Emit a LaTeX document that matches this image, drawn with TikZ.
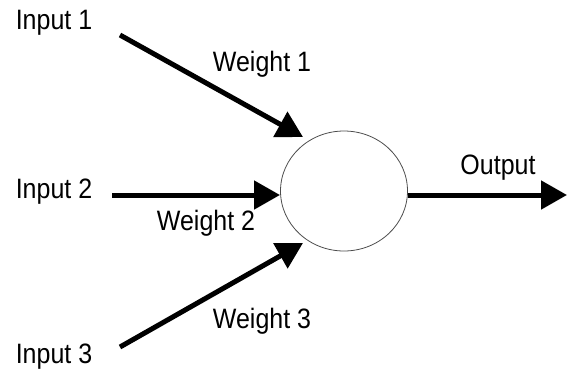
\documentclass[tikz,border=0pt]{standalone}
\usepackage{fontspec}
\setmainfont{Liberation Sans}
\usetikzlibrary{arrows.meta,shapes.geometric}
\newcommand{\tallt}[1]{\scalebox{0.98}[1.1]{#1}}
\begin{document}
\begin{tikzpicture}[x=1pt,y=-1pt,
  lbl/.style={inner sep=0pt,font=\fontsize{25.5}{30}\selectfont},
  wire/.style={line width=5pt,-{Triangle[length=26pt,width=28pt]}},
  neuron/.style={draw=black!70,line width=0.8pt,ellipse,minimum width=127pt,minimum height=120pt,inner sep=0pt}]
\useasboundingbox (0,0) rectangle (567,373);
\node[neuron] (n) at (344,191) {};
\node[lbl] (i1) at (54,23) {\tallt{Input 1}};
\node[lbl] (i2) at (54,192) {\tallt{Input 2}};
\node[lbl] (i3) at (54,357) {\tallt{Input 3}};
\node[lbl] (w1) at (262,64) {\tallt{Weight 1}};
\node[lbl] (w2) at (206,223) {\tallt{Weight 2}};
\node[lbl] (w3) at (262,321) {\tallt{Weight 3}};
\node[lbl] (o) at (498,168) {\tallt{Output}};
\coordinate (s1) at (120,35);
\coordinate (s2) at (112,195);
\coordinate (s3) at (120,347);
\coordinate (e1) at (303,137);
\coordinate (e2) at (280,195);
\coordinate (e3) at (303,243);
\coordinate (os) at (408,195);
\coordinate (oe) at (567,195);
\draw[wire] (s1) -- (e1);
\draw[wire] (s2) -- (e2);
\draw[wire] (s3) -- (e3);
\draw[wire] (os) -- (oe);
\end{tikzpicture}
\end{document}
